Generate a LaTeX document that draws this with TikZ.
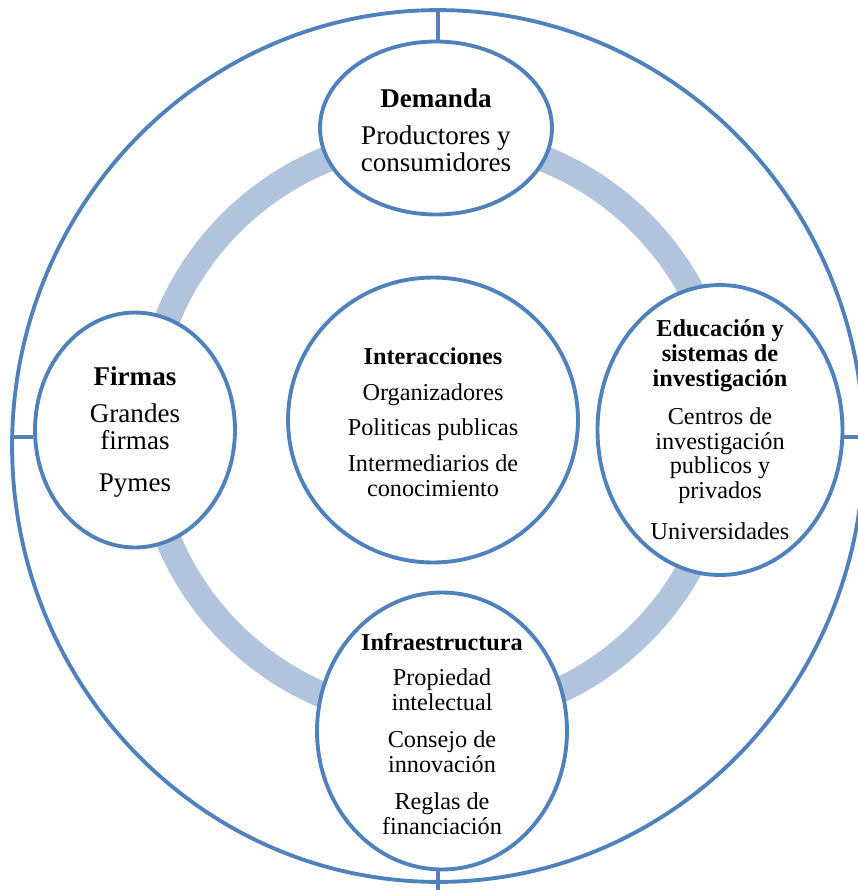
\documentclass[tikz,border=0pt]{standalone}
\usepackage{fontspec}
\setmainfont{Liberation Serif}
\usetikzlibrary{shapes.geometric}
\definecolor{edgeblue}{RGB}{79,129,189}
\definecolor{bandblue}{RGB}{178,195,222}

\begin{document}
\begin{tikzpicture}[x=0.02cm, y=-0.02cm,
  bub/.style={ellipse, draw=edgeblue, line width=2.2pt, fill=white, inner sep=0pt},
  txt/.style={align=center, inner sep=0pt, font=\fontsize{13.8}{14.2}\selectfont},
  txtbig/.style={align=center, inner sep=0pt, font=\fontsize{15.4}{15.6}\selectfont},
  ring/.style={draw=bandblue, line width=0.52cm},
  tick/.style={draw=edgeblue, line width=1.8pt}
]
\useasboundingbox (0,0) rectangle (858,890);
\clip (0,0) rectangle (858,890);
\draw[ring] (436,428) circle (5.8cm);
\node[ellipse, draw=edgeblue, line width=2.2pt, minimum width=17.04cm, minimum height=17.44cm] (outer) at (438,446) {};
\coordinate (tn) at (438,10);
\coordinate (lw) at (10,437);
\coordinate (re) at (858,437);
\coordinate (bs) at (438,890);

\node[bub, minimum width=4.64cm, minimum height=3.46cm] (dem) at (436,128) {};
\node[bub, minimum width=4.0cm, minimum height=4.7cm] (fir) at (135,430) {};
\node[bub, minimum width=4.9cm, minimum height=5.8cm] (edu) at (720,430) {};
\node[bub, minimum width=5.0cm, minimum height=5.54cm] (inf) at (442,731) {};
\node[bub, minimum width=5.8cm, minimum height=5.7cm] (int) at (433,420) {};

\node[txtbig] (demtxt) at (436,130) {\textbf{Demanda}\\[5.5pt] Productores y\\consumidores};
\node[txtbig] (firtxt) at (135,432) {\textbf{Firmas}\\[5pt] Grandes\\firmas\\[8pt] Pymes};
\node[txt] (edutxt) at (edu) {\textbf{Educación y}\\\textbf{sistemas de}\\\textbf{investigación}\\[7pt] Centros de\\investigación\\publicos y\\privados\\[9pt] Universidades};
\node[txt] (inftxt) at (442,734) {\textbf{Infraestructura}\\[6pt] Propiedad\\intelectual\\[7pt] Consejo de\\innovación\\[7pt] Reglas de\\financiación};
\node[txt] (inttxt) at (433,422) {\textbf{Interacciones}\\[6pt] Organizadores\\[6pt] Politicas publicas\\[6pt] Intermediarios de\\conocimiento};

\draw[tick] (tn) -- (tn |- dem.north);
\draw[tick] (lw) -- (lw -| fir.west);
\draw[tick] (edu.east |- re) -- (re);
\draw[tick] (inf.south -| bs) -- (bs);
\end{tikzpicture}
\end{document}
